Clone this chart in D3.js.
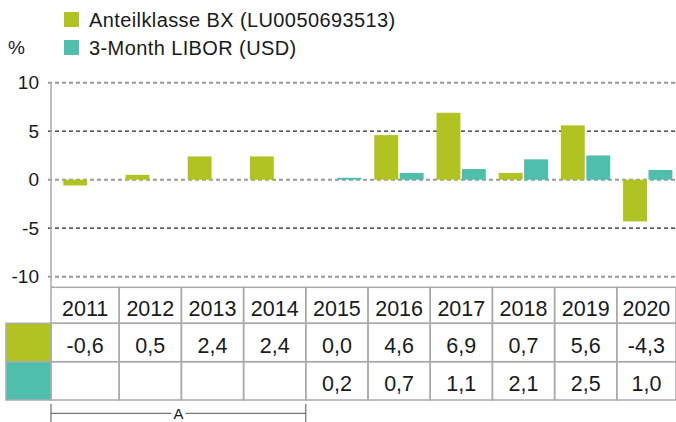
<!DOCTYPE html>
<html>
<head>
<meta charset="utf-8">
<script src="https://cdn.jsdelivr.net/npm/d3@7"></script>
<style>
  body { margin: 0; background: #fff; }
  svg { display: block; font-family: "Liberation Sans", Arial, sans-serif; }
</style>
</head>
<body>
<svg id="chart" width="676" height="422"></svg>
<script>
// data
const years = ["2011", "2012", "2013", "2014", "2015", "2016", "2017", "2018", "2019", "2020"];
const fund = [-0.6, 0.5, 2.4, 2.4, 0.0, 4.6, 6.9, 0.7, 5.6, -4.3];
const libor = [null, null, null, null, 0.2, 0.7, 1.1, 2.1, 2.5, 1.0];
const seriesNames = ["Anteilklasse BX (LU0050693513)", "3-Month LIBOR (USD)"];
const yTicks = [-10, -5, 0, 5, 10];

const colors = ["#b0c322", "#4fbead"];
const fmt = v => v == null ? "" : v.toFixed(1).replace(".", ",");

const svg = d3.select("#chart");

// scales
let x = d3.scaleBand().domain(years).range([57, 679]);
let x1 = d3.scaleBand().domain([0, 1]).range([6.3, 55.6]).paddingInner(0.06);
let y = d3.scaleLinear().domain([-10, 10]).range([276.7, 82.7]);

const axisLeft = 51, axisBottom = 287.3;

// ------
// legend
const legend = svg.append("g");
seriesNames.forEach((name, i) => {
  legend.append("rect")
    .attr("x", 64).attr("y", 12 + i * 28)
    .attr("width", 15).attr("height", 15)
    .attr("fill", colors[i]);
  legend.append("text")
    .attr("x", 89).attr("y", 27 + i * 27.5)
    .attr("font-size", 20).attr("letter-spacing", 0.4)
    .attr("fill", "#1a1a1a")
    .text(name);
});
svg.append("text").attr("x", 8).attr("y", 54)
  .attr("font-size", 19).attr("fill", "#1a1a1a").text("%");

// ------
// grid lines + y labels
const grid = svg.append("g");
yTicks.forEach(t => {
  let strong = Math.abs(t) == 5;
  grid.append("line")
    .attr("x1", 48).attr("x2", 676)
    .attr("y1", y(t)).attr("y2", y(t))
    .attr("stroke", strong ? "#222" : "#999")
    .attr("stroke-width", strong ? 1.2 : 2)
    .attr("stroke-dasharray", "4,3");
  grid.append("text")
    .attr("x", 39).attr("y", y(t) + 6.6)
    .attr("text-anchor", "end")
    .attr("font-size", 19).attr("fill", "#1a1a1a")
    .text(t);
});

// axis lines
svg.append("line")
  .attr("x1", axisLeft).attr("x2", axisLeft)
  .attr("y1", y(10)).attr("y2", axisBottom)
  .attr("stroke", "#aaa").attr("stroke-width", 1.5);

// ------
// bars
const bars = svg.append("g");
[fund, libor].forEach((vals, s) => {
  bars.selectAll(null)
    .data(years.map((yr, i) => ({ yr: yr, v: vals[i] })).filter(d => d.v != null && d.v != 0))
    .enter()
    .append("rect")
    .attr("x", d => x(d.yr) + x1(s))
    .attr("width", x1.bandwidth())
    .attr("y", d => y(Math.max(0, d.v)))
    .attr("height", d => Math.abs(y(d.v) - y(0)))
    .attr("fill", colors[s]);
});

// ------
// data table
const rows = [axisBottom, 323.3, 361.7, 400];
const colLeft = (yr, i) => i == 0 ? axisLeft : x(yr);
const colRight = yr => Math.min(x(yr) + x.step(), 676);
const table = svg.append("g");

// colour keys
[0, 1].forEach(s => {
  table.append("rect")
    .attr("x", 6).attr("y", rows[s + 1])
    .attr("width", axisLeft - 6).attr("height", rows[s + 2] - rows[s + 1])
    .attr("fill", colors[s]).attr("stroke", "#aaa").attr("stroke-width", 1.5);
});

years.forEach((yr, i) => {
  let l = colLeft(yr, i), r = colRight(yr), cx = (l + r) / 2;
  for (let k = 0; k < 3; k++) {
    table.append("rect")
      .attr("x", l).attr("y", rows[k])
      .attr("width", r - l).attr("height", rows[k + 1] - rows[k])
      .attr("fill", "none").attr("stroke", "#aaa").attr("stroke-width", 1.5);
  }
  table.append("text").attr("x", cx).attr("y", 316)
    .attr("text-anchor", "middle").attr("font-size", 21.5).attr("fill", "#1a1a1a")
    .text(yr);
  table.append("text").attr("x", cx).attr("y", 352.7)
    .attr("text-anchor", "middle").attr("font-size", 21.5).attr("fill", "#1a1a1a")
    .text(fmt(fund[i]));
  table.append("text").attr("x", cx).attr("y", 390.7)
    .attr("text-anchor", "middle").attr("font-size", 21.5).attr("fill", "#1a1a1a")
    .text(fmt(libor[i]));
});

// ------
// bracket "A" under 2011-2014
const bx0 = axisLeft, bx1 = x("2014") + x.step();
const br = svg.append("g").attr("stroke", "#555").attr("stroke-width", 1);
br.append("line").attr("x1", bx0).attr("x2", bx1).attr("y1", 413.3).attr("y2", 413.3);
br.append("line").attr("x1", bx0).attr("x2", bx0).attr("y1", 404).attr("y2", 422);
br.append("line").attr("x1", bx1).attr("x2", bx1).attr("y1", 404).attr("y2", 422);
svg.append("rect").attr("x", (bx0 + bx1) / 2 - 7).attr("y", 405).attr("width", 14).attr("height", 16).attr("fill", "#fff");
svg.append("text").attr("x", (bx0 + bx1) / 2).attr("y", 419)
  .attr("text-anchor", "middle").attr("font-size", 15).attr("fill", "#1a1a1a").text("A");
</script>
</body>
</html>
